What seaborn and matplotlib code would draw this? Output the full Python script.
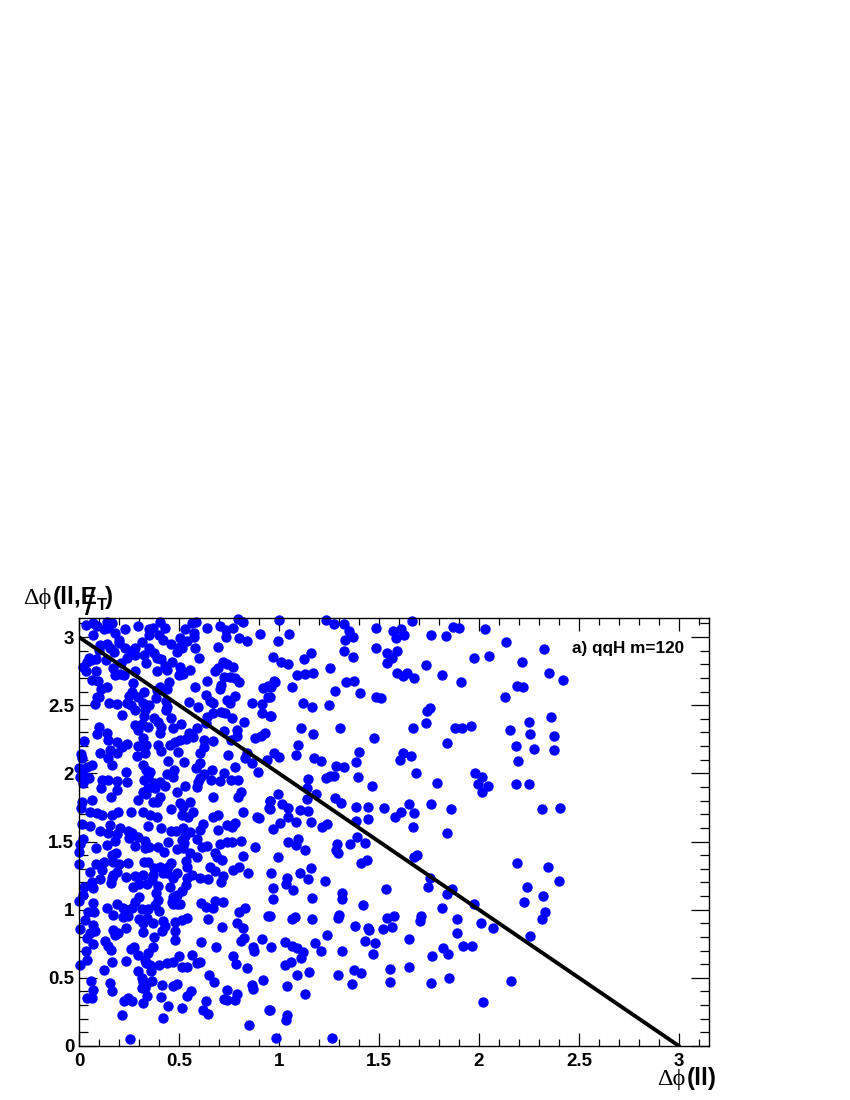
import matplotlib
matplotlib.use("Agg")
import matplotlib.pyplot as plt
import pandas as pd
import seaborn as sns
from matplotlib.ticker import MultipleLocator

# points, (dphi_ll, dphi_ll_met), grouped by region
upper_left = [
    (.035,3.09),(.072,3.10),(.092,3.08),(.142,3.11),(.163,3.10),(.147,3.07),(.127,3.06),(.07,3.015),(.18,3.03),(.228,3.06),
    (.202,2.98),(.297,3.08),(.35,3.06),(.37,3.07),(.405,3.11),(.43,3.07),(.35,3.015),(.402,3.015),(.422,2.98),(.458,2.95),
    (.505,2.99),(.538,2.97),(.575,3.0),(.53,3.06),(.563,3.10),(.583,3.11),(.577,3.03),(.638,3.07),(.705,3.08),(.735,3.05),
    (.768,3.07),(.797,3.13),(.822,3.11),(.735,3.0),(.798,2.996),(.838,2.97),(.905,3.02),(.317,2.966),(.695,2.93),(.602,2.85),
    (.58,2.92),(.505,2.93),(.488,2.89),(.513,2.92),(.105,2.94),(.142,2.95),(.155,2.92),(.175,2.89),(.102,2.905),(.2,2.96),
    (.232,2.92),(.258,2.90),(.28,2.92),(.242,2.85),(.28,2.87),(.352,2.92),(.375,2.885),(.325,2.865),(.388,2.85),(.412,2.84),
    (.333,2.81),(.463,2.815),(.43,2.79),(.438,2.76),(.39,2.75),(.505,2.78),(.512,2.75),(.5,2.72),(.518,2.73),(.555,2.76),
    (.208,2.81),(.168,2.77),(.18,2.72),(.205,2.73),(.225,2.72),(.28,2.75),(.272,2.665),(.05,2.85),(.083,2.84),(.058,2.83),
    (.042,2.82),(.135,2.83),(.022,2.78),(.035,2.75),(.085,2.75),(.063,2.685),(.097,2.68),(.108,2.62),(.142,2.636),(.452,2.67),
    (.405,2.636),(.438,2.62),(.388,2.61),(.638,2.68),(.578,2.636),(.708,2.65),(.705,2.62),(.68,2.75),(.697,2.77),(.718,2.82),
    (.742,2.80),(.772,2.78),(.725,2.71),(.755,2.71),(.78,2.70),(.798,2.67),(.922,2.63),(.947,2.64),(.975,2.68),(.088,2.56),
    (.102,2.56),(.08,2.51),(.15,2.52),(.188,2.507),(.213,2.43),(.263,2.60),(.252,2.57),(.238,2.514),(.258,2.50),(.297,2.56),
    (.325,2.60),(.28,2.465),(.322,2.514),(.35,2.50),(.33,2.465),(.325,2.42),(.385,2.555),(.433,2.53),(.438,2.49),(.433,2.465),
    (.46,2.41),(.375,2.41),(.397,2.38),(.412,2.34),(.405,2.294),(.472,2.33),(.51,2.36),(.28,2.355),(.313,2.36),(.297,2.32),
    (.318,2.257),(.347,2.34),(.552,2.526),(.595,2.49),(.633,2.575),(.655,2.53),(.672,2.514),(.738,2.54),(.755,2.514),(.78,2.57),
    (.863,2.514),(.913,2.51),(.943,2.56),(.913,2.44),(.955,2.424),(.642,2.416),(.633,2.37),(.672,2.445),(.708,2.453),(.73,2.445),
    (.765,2.41),(.827,2.38),(.588,2.33),(.725,2.31),(.788,2.32),(.792,2.277),(.758,2.245),(.672,2.24),(.88,2.257),(.908,2.277),
    (.93,2.294),(.102,2.338),(.088,2.29),(.138,2.294),(.147,2.245),(.025,2.238),(.105,2.15),(.155,2.17),(.192,2.233),(.238,2.216),
    (.213,2.196),(.188,2.147),(.147,2.11),(.163,2.06),(.008,2.142),(.013,2.11),(.297,2.2),(.333,2.21),(.33,2.15),(.288,2.13),
    (.397,2.21),(.412,2.164),(.455,2.21),(.48,2.233),(.505,2.245),(.552,2.294),(.535,2.25),(.572,2.27),(.625,2.245),(.625,2.196),
    (.605,2.15),(.497,2.16),(.447,2.09),(.527,2.086),(.318,2.06),(.335,2.025),(.355,2.01),(.347,1.976),(.325,1.95),(.235,2.01),
    (.242,1.94),(.113,1.95),(.147,1.95),(.188,1.946),(.192,1.88),(.11,1.89),(.158,1.83),(.063,2.06),(.038,2.05),(.002,2.037),
    (.013,2.0),(.005,1.976),(.035,1.964),(.052,1.964),(.022,1.927),(.583,2.037),(.605,2.074),(.663,2.025),(.625,1.996),(.605,1.964),
    (.597,1.94),(.588,1.903),(.658,1.95),(.705,1.946),(.725,2.0),(.76,1.95),(.797,1.95),(.78,2.045),(.747,2.135),(.838,2.147),
    (.83,2.11),(.863,2.074),(.897,2.01),(.938,2.1),(.438,1.996),(.475,2.025),(.472,1.976),(.405,1.94),(.43,1.908),(.375,1.927),
    (.347,1.89),(.322,1.866),(.335,1.85),(.38,1.89),(.405,1.83),(.388,1.79),(.297,1.805),(.372,1.79),(.488,1.86),(.532,1.908),
    (.505,1.78),(.555,1.79),(.518,1.756),(.458,1.74),(.668,1.83),(.808,1.866),(.797,1.83),(.955,1.80),(.952,1.744),(.063,1.805),
    (.013,1.79),(.01,1.744),
]

lower_left = [
    (.055,1.72),(.088,1.71),(.113,1.695),(.163,1.695),(.197,1.72),(.258,1.72),(.322,1.72),(.355,1.695),(.388,1.68),(.513,1.695),
    (.547,1.68),(.568,1.72),(.672,1.68),(.697,1.695),(.822,1.72),(.888,1.68),(.902,1.67),(.013,1.63),(.055,1.616),(.155,1.62),
    (.105,1.58),(.147,1.56),(.205,1.6),(.247,1.58),(.263,1.565),(.192,1.555),(.18,1.506),(.138,1.474),(.252,1.523),(.297,1.53),
    (.33,1.506),(.278,1.467),(.347,1.614),(.408,1.6),(.458,1.58),(.483,1.58),(.522,1.6),(.555,1.572),(.532,1.54),(.447,1.5),
    (.513,1.51),(.527,1.487),(.592,1.516),(.622,1.63),(.605,1.584),(.697,1.584),(.742,1.62),(.78,1.638),(.763,1.609),(.808,1.506),
    (.705,1.482),(.738,1.494),(.763,1.494),(.613,1.462),(.638,1.467),(.882,1.462),(.397,1.462),(.33,1.45),(.352,1.457),(.425,1.42),
    (.492,1.442),(.518,1.45),(.555,1.418),(.592,1.389),(.68,1.418),(.713,1.364),(.688,1.389),(.822,1.394),(.022,1.516),(.005,1.48),
    (.002,1.425),(.083,1.45),(.002,1.332),(.085,1.332),(.055,1.274),(.125,1.352),(.163,1.4),(.185,1.413),(.172,1.352),(.202,1.335),
    (.247,1.345),(.325,1.352),(.347,1.352),(.375,1.303),(.458,1.345),(.447,1.315),(.535,1.36),(.542,1.31),(.655,1.315),(.68,1.286),
    (.772,1.29),(.798,1.31),(.843,1.266),(.405,1.31),(.438,1.266),(.422,1.266),(.322,1.254),(.28,1.25),(.235,1.242),(.188,1.278),
    (.172,1.254),(.113,1.291),(.105,1.225),(.163,1.23),(.158,1.198),(.063,1.205),(.072,1.156),(.025,1.164),(.022,1.108),(0.0,1.066),
    (.072,1.051),(.047,.985),(.075,.985),(.142,1.015),(.188,1.042),(.172,.961),(.218,1.01),(.238,.997),(.263,1.01),(.28,1.059),
    (.302,1.09),(.268,1.169),(.302,1.188),(.338,1.188),(.372,1.254),(.363,1.218),(.397,1.174),(.383,1.12),(.397,1.071),(.38,1.034),
    (.402,.993),(.347,1.005),(.313,1.002),(.222,.949),(.247,.953),(.302,.929),(.338,.936),(.322,.9),(.368,.9),(.418,.917),
    (.43,.883),(.48,.912),(.513,.924),(.538,.941),(.488,1.266),(.472,1.23),(.455,1.169),(.538,1.23),(.533,1.181),(.513,1.137),
    (.488,1.108),(.472,1.095),(.463,1.059),(.488,1.039),(.468,1.039),(.505,1.039),(.563,1.254),(.605,1.23),(.647,1.225),(.718,1.249),
    (.708,1.205),(.61,1.046),(.633,1.022),(.672,1.015),(.68,1.066),(.718,1.054),(.83,1.015),(.798,.98),(.647,.931),(.717,.87),
    (.792,.9),(.822,.863),(.947,.953),(.03,.924),(.068,.887),(.08,.843),(.055,.826),(.038,.79),(.005,.856),(.068,.746),
    (.035,.699),(.038,.631),(.005,.594),(.168,.851),(.197,.826),(.18,.814),(.235,.863),(.322,.838),(.375,.802),(.417,.846),
    (.48,.846),(.48,.777),(.13,.773),(.147,.733),(.16,.704),(.258,.711),(.277,.724),(.372,.729),(.297,.667),(.33,.631),
    (.347,.68),(.335,.606),(.355,.594),(.402,.594),(.438,.606),(.472,.619),(.502,.662),(.513,.582),(.538,.582),(.565,.67),
    (.588,.611),(.605,.616),(.61,.76),(.685,.724),(.772,.66),(.785,.599),(.838,.57),(.81,.773),(.825,.795),(.913,.785),
    (.872,.729),(.877,.699),(.163,.614),(.235,.626),(.127,.557),(.297,.55),(.358,.55),(.313,.496),(.363,.479),(.338,.46),
    (.33,.423),(.313,.423),(.318,.472),(.338,.367),(.322,.313),(.413,.447),(.468,.442),(.488,.452),(.65,.521),(.675,.467),
    (.06,.477),(.155,.46),(.165,.403),(.072,.411),(.042,.35),(.063,.35),(.227,.332),(.247,.35),(.263,.33),(.412,.357),
    (.447,.296),(.513,.281),(.542,.367),(.56,.403),(.635,.33),(.618,.264),(.643,.232),(.738,.411),(.788,.381),(.727,.345),
    (.742,.337),(.78,.337),(.863,.447),(.872,.416),(.918,.482),(.948,.264),(.215,.227),(.422,.203),(.852,.154),(.255,.049),
]

upper_right = [
    (1.00,3.125),(1.05,3.02),(.997,2.97),(.97,2.856),(1.01,2.815),(1.047,2.80),(1.125,2.84),(1.162,2.886),(1.088,2.72),(1.13,2.73),
    (1.168,2.74),(1.255,2.776),(1.235,3.123),(1.277,3.096),(1.325,3.096),(1.352,3.042),(1.37,2.998),(1.328,2.98),(1.325,2.90),(1.372,2.856),
    (1.485,3.069),(1.487,2.92),(1.57,3.045),(1.61,3.057),(1.625,3.013),(1.585,2.99),(1.542,2.886),(1.588,2.895),(1.567,2.85),(1.538,2.81),
    (1.667,3.118),(1.758,3.015),(1.835,3.01),(1.872,3.076),(1.902,3.07),(2.03,3.06),(2.137,2.966),(2.323,2.91),(1.973,2.85),(2.052,2.859),
    (2.217,2.82),(2.352,2.737),(2.42,2.688),(1.733,2.793),(1.815,2.72),(1.912,2.668),(1.588,2.739),(1.622,2.717),(1.638,2.739),(1.675,2.70),
    (1.335,2.668),(1.375,2.678),(1.278,2.604),(1.405,2.59),(1.485,2.563),(1.508,2.551),(.978,2.673),(.958,2.636),(1.065,2.631),(.955,2.563),
    (1.118,2.514),(1.165,2.49),(1.252,2.502),(.96,2.424),(1.108,2.33),(1.303,2.333),(1.168,2.287),(1.473,2.257),(1.097,2.206),(.977,2.147),
    (1.0,2.118),(1.085,2.133),(1.175,2.116),(1.208,2.089),(1.402,2.157),(1.383,2.084),(1.285,2.054),(1.325,2.045),(1.618,2.15),(1.607,2.098),
    (1.658,2.125),(1.67,2.333),(1.733,2.372),(1.755,2.477),(1.742,2.458),(1.882,2.33),(1.915,2.33),(1.96,2.35),(1.838,2.221),(1.687,2.0),
    (2.132,2.56),(2.188,2.641),(2.222,2.631),(2.153,2.316),(2.252,2.377),(2.358,2.411),(2.257,2.287),(2.373,2.277),(2.185,2.201),(2.277,2.179),
    (2.373,2.169),(2.195,2.091),(1.98,2.003),(2.013,1.976),(1.993,1.92),(2.047,1.905),(2.017,1.864),(1.792,1.927),(2.185,1.92),(2.252,1.925),
    (2.315,1.739),(2.407,1.744),(1.147,1.961),(1.235,1.966),(1.257,1.981),(1.273,1.983),(1.393,1.974),(1.467,1.91),(1.138,1.896),(.997,1.849),
    (1.185,1.846),(1.14,1.81),(1.282,1.822),(1.308,1.783),(.955,1.80),(1.017,1.776),(1.047,1.746),(.955,1.737),(1.103,1.729),(1.143,1.727),
    (1.047,1.683),(1.005,1.634),(1.085,1.641),(1.158,1.646),(1.238,1.626),(1.215,1.607),(1.387,1.754),(1.447,1.751),(1.525,1.744),(1.65,1.773),
    (1.762,1.773),(1.858,1.737),(1.608,1.72),(1.675,1.71),(1.58,1.68),(1.383,1.649),(1.447,1.663),(1.672,1.61),(1.842,1.565),(.968,1.59),
]

lower_right = [
    (1.043,1.499),(1.095,1.521),(1.083,1.472),(1.132,1.441),(.997,1.389),(1.288,1.485),(1.287,1.441),(1.297,1.416),(1.355,1.48),(1.392,1.531),
    (1.432,1.49),(1.412,1.345),(1.438,1.362),(1.675,1.389),(1.688,1.399),(1.755,1.23),(1.747,1.167),(1.865,1.155),(1.842,1.116),(1.975,1.042),
    (2.19,1.345),(2.343,1.311),(2.4,1.213),(2.24,1.164),(2.32,1.098),(2.225,1.057),(2.33,.984),(2.313,.932),(2.253,.805),(1.815,1.01),
    (1.888,.935),(2.008,.905),(2.07,.869),(1.89,.827),(1.963,.734),(1.922,.732),(1.818,.722),(1.845,.673),(1.765,.661),(1.852,.499),
    (1.758,.46),(1.652,.58),(1.648,.785),(1.553,.563),(1.553,.47),(2.162,.48),(2.022,.326),(1.71,.954),(1.707,.915),(1.538,.937),
    (1.575,.952),(1.565,.871),(1.52,.861),(1.537,1.155),(1.418,1.037),(1.315,1.125),(1.317,1.079),(1.23,1.213),(1.162,1.309),(1.105,1.267),
    (1.143,1.223),(1.042,1.23),(1.035,1.191),(1.068,1.145),(.96,1.267),(.968,1.162),(.972,1.079),(1.163,1.086),(.955,.957),(1.08,.949),
    (1.065,.93),(1.165,.932),(1.3,.964),(1.297,.937),(1.378,.881),(1.447,.869),(1.448,.854),(1.24,.812),(1.18,.754),(1.032,.761),
    (1.063,.737),(1.088,.717),(1.122,.693),(1.108,.649),(1.212,.695),(1.313,.70),(1.43,.768),(1.478,.756),(1.47,.675),(.96,.729),
    (1.058,.614),(1.032,.595),(1.152,.541),(1.092,.519),(1.293,.521),(1.375,.556),(1.408,.539),(1.363,.455),(1.038,.443),(1.128,.384),
    (.955,.265),(1.038,.228),(1.035,.194),(.983,.062),(1.267,.059),
]

cut_x = [0, 3]
cut_y = [3, 0]

df = pd.DataFrame(upper_left + lower_left + upper_right + lower_right, columns=["dphi_ll", "dphi_ll_met"])

sns.set_theme(style="white")
plt.rcParams['font.family'] = ['Liberation Sans', 'DejaVu Sans']
plt.rcParams['font.weight'] = 'bold'

fig = plt.figure(figsize=(8.5, 11), dpi=100)
ax = fig.add_axes([79 / 850, 1 - 1046 / 1100, 630 / 850, 428 / 1100])

sns.scatterplot(data=df, x="dphi_ll", y="dphi_ll_met", color="#0000ff", s=56, linewidth=0, clip_on=False, ax=ax)
sns.lineplot(x=cut_x, y=cut_y, color="black", linewidth=2.8, ax=ax)

ax.set_xlim(0, 3.15)
ax.set_ylim(0, 3.14)
ax.set_xlabel("")
ax.set_ylabel("")

ax.xaxis.set_minor_locator(MultipleLocator(0.1))
ax.yaxis.set_minor_locator(MultipleLocator(0.1))
ax.set_xticks([0, 0.5, 1, 1.5, 2, 2.5, 3], ["0", "0.5", "1", "1.5", "2", "2.5", "3"])
ax.set_yticks([0, 0.5, 1, 1.5, 2, 2.5, 3], ["0", "0.5", "1", "1.5", "2", "2.5", "3"])

ax.tick_params(axis="x", which="major", direction="in", top=True, bottom=True, length=9.4, width=0.9, labelsize=13.5, pad=5, color="black")
ax.tick_params(axis="x", which="minor", direction="in", top=True, bottom=True, length=4.7, width=0.9, color="black")
ax.tick_params(axis="y", which="major", direction="in", left=True, right=True, length=13, width=0.9, labelsize=13.5, pad=3.5, color="black")
ax.tick_params(axis="y", which="minor", direction="in", left=True, right=True, length=6.5, width=0.9, color="black")
for label in ax.get_xticklabels() + ax.get_yticklabels():
    label.set_color("black")
    label.set_fontweight("bold")
for spine in ax.spines.values():
    spine.set_linewidth(1.0)
    spine.set_color("black")

# axis titles are placed by hand like the ROOT ones
def label_part(px, py, text, size=17.5, family="Liberation Sans", weight="bold"):
    fig.text(px / 850, 1 - py / 1100, text, fontsize=size, family=[family, "DejaVu Serif"], fontweight=weight, ha="left", va="baseline", color="black")

label_part(23, 604, "Δϕ", family="Liberation Serif", weight="normal")
label_part(53, 604, "(ll,E")
label_part(85, 615, "/", size=27, weight="normal")
label_part(97, 610, "T", size=12)
label_part(105, 604, ")")

label_part(657, 1085, "Δϕ", family="Liberation Serif", weight="normal")
label_part(687, 1085, "(ll)")

fig.text(684 / 850, 1 - 653 / 1100, "a) qqH m=120", fontsize=12.3, fontweight="bold", ha="right", va="baseline", color="black")

fig.savefig("out.png", dpi=100)
